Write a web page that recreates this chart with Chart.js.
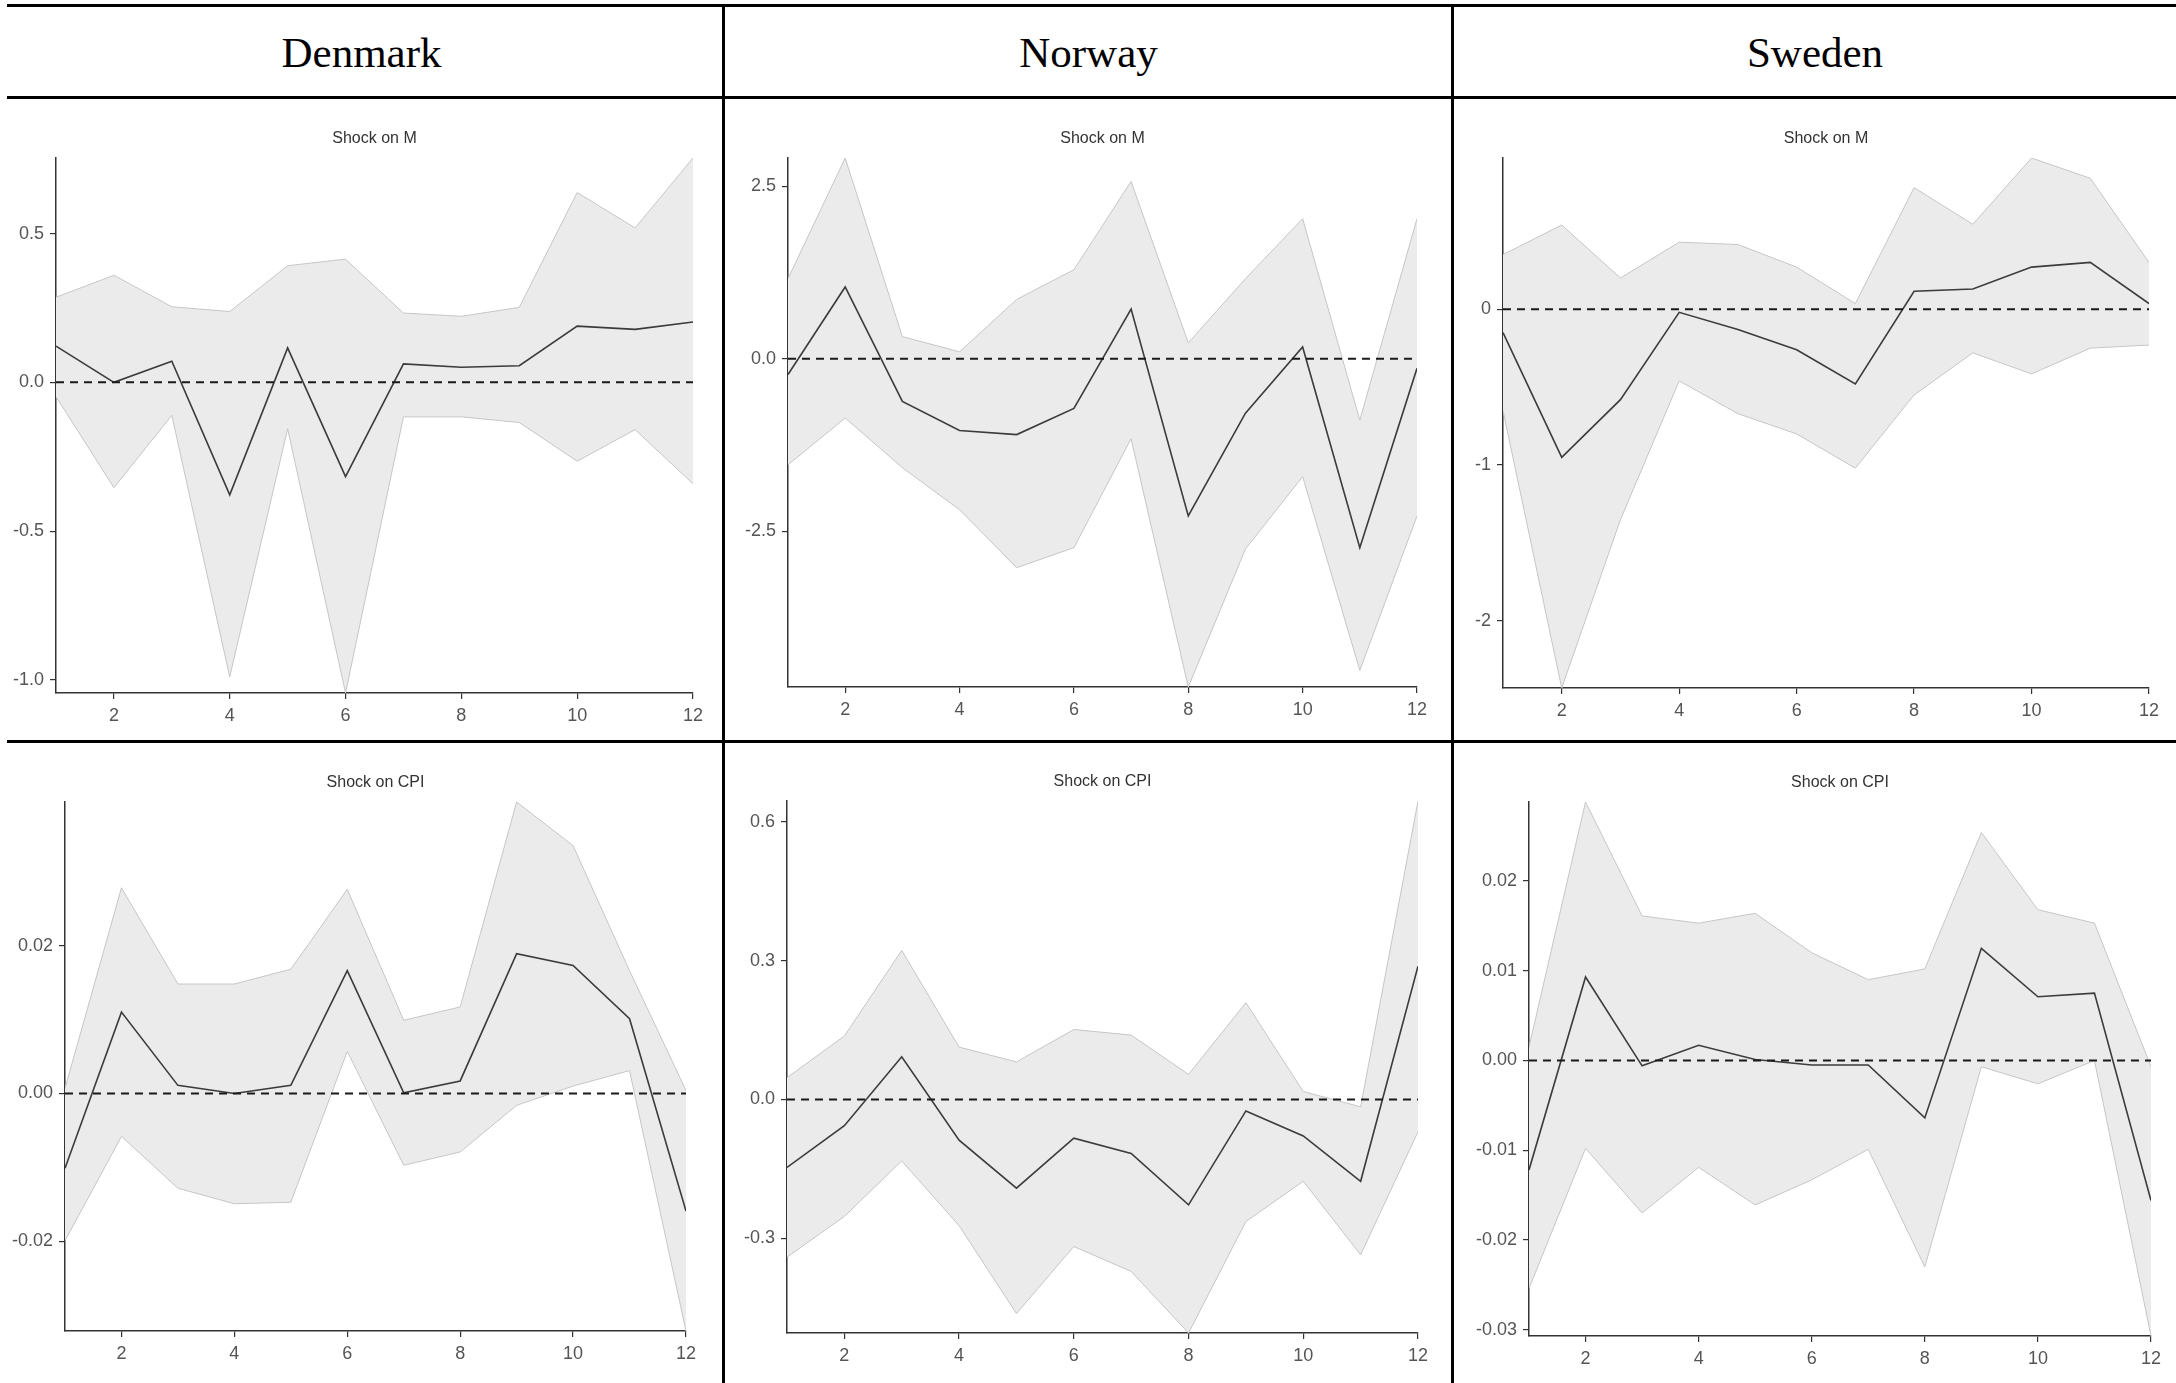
<!DOCTYPE html>
<html>
<head>
<meta charset="utf-8">
<title>Impulse responses: Denmark, Norway, Sweden</title>
<script src="https://cdn.jsdelivr.net/npm/chart.js@4.4.1/dist/chart.umd.min.js"></script>
<style>
  html, body { margin: 0; padding: 0; background: #fff; }
  body { width: 2176px; height: 1383px; position: relative; overflow: hidden; }
  .rule { position: absolute; background: #000; z-index: 2; }
  .country {
    position: absolute; top: 9px; height: 88px; line-height: 88px;
    text-align: center; color: #000;
    font-family: 'Liberation Serif', 'Times New Roman', serif; font-size: 43px;
  }
  canvas { position: absolute; }
</style>
</head>
<body>

<div class="rule" style="left:7px;top:4px;width:2169px;height:3px"></div>
<div class="rule" style="left:7px;top:96px;width:2169px;height:3px"></div>
<div class="rule" style="left:7px;top:740px;width:2169px;height:3px"></div>
<div class="rule" style="left:722px;top:4px;width:3px;height:1379px"></div>
<div class="rule" style="left:1451px;top:4px;width:3px;height:1379px"></div>

<script>
// horizons and ticks
const horizons = [1, 2, 3, 4, 5, 6, 7, 8, 9, 10, 11, 12];
const xTicks   = [2, 4, 6, 8, 10, 12];

const countries   = ['Denmark', 'Norway', 'Sweden'];
const shockTitles = ['Shock on M', 'Shock on CPI'];

// Shock on M
const dkM      = [0.122, 0.0, 0.071, -0.378, 0.116, -0.317, 0.062, 0.051, 0.056, 0.189, 0.178, 0.203];
const dkMUpper = [0.286, 0.360, 0.254, 0.238, 0.392, 0.414, 0.233, 0.222, 0.252, 0.638, 0.519, 0.754];
const dkMLower = [-0.048, -0.354, -0.111, -0.99, -0.156, -1.044, -0.116, -0.116, -0.135, -0.265, -0.159, -0.341];

const noM      = [-0.23, 1.04, -0.62, -1.04, -1.10, -0.72, 0.72, -2.28, -0.79, 0.17, -2.74, -0.14];
const noMUpper = [1.16, 2.91, 0.32, 0.10, 0.86, 1.29, 2.57, 0.23, 1.16, 2.03, -0.89, 2.03];
const noMLower = [-1.54, -0.86, -1.58, -2.19, -3.03, -2.74, -1.16, -4.76, -2.76, -1.71, -4.52, -2.28];

const seM      = [-0.15, -0.95, -0.58, -0.02, -0.13, -0.26, -0.48, 0.115, 0.13, 0.27, 0.30, 0.036];
const seMUpper = [0.35, 0.54, 0.20, 0.43, 0.415, 0.27, 0.036, 0.78, 0.545, 0.97, 0.84, 0.30];
const seMLower = [-0.65, -2.43, -1.35, -0.46, -0.67, -0.80, -1.02, -0.55, -0.28, -0.415, -0.25, -0.23];

// Shock on CPI
const dkCpi      = [-0.0101, 0.0110, 0.0011, 0.0, 0.0011, 0.0166, 0.0001, 0.0017, 0.0189, 0.0173, 0.0101, -0.0159];
const dkCpiUpper = [0.0007, 0.0278, 0.0148, 0.0148, 0.0168, 0.0276, 0.0099, 0.0117, 0.0394, 0.0335, 0.0166, 0.0004];
const dkCpiLower = [-0.0199, -0.0058, -0.0128, -0.0149, -0.0147, 0.0057, -0.0097, -0.0079, -0.0016, 0.0010, 0.0031, -0.0321];

const noCpi      = [-0.147, -0.057, 0.092, -0.088, -0.192, -0.084, -0.117, -0.228, -0.025, -0.079, -0.177, 0.288];
const noCpiUpper = [0.047, 0.137, 0.322, 0.113, 0.081, 0.151, 0.139, 0.054, 0.209, 0.017, -0.016, 0.645];
const noCpiLower = [-0.341, -0.253, -0.133, -0.273, -0.463, -0.318, -0.372, -0.505, -0.264, -0.177, -0.336, -0.070];

const seCpi      = [-0.0122, 0.0093, -0.0006, 0.0017, 0.0001, -0.0005, -0.0005, -0.0064, 0.0125, 0.0071, 0.0075, -0.0156];
const seCpiUpper = [0.0015, 0.0288, 0.0161, 0.0153, 0.0164, 0.0120, 0.0090, 0.0102, 0.0254, 0.0168, 0.0153, -0.0007];
const seCpiLower = [-0.0254, -0.0098, -0.0170, -0.0119, -0.0161, -0.0133, -0.0099, -0.0230, -0.0007, -0.0026, 0.0, -0.0307];

// y tick values + labels
const dkMTicks    = [-1.0, -0.5, 0.0, 0.5];
const dkMLabels   = ['-1.0', '-0.5', '0.0', '0.5'];
const noMTicks    = [-2.5, 0.0, 2.5];
const noMLabels   = ['-2.5', '0.0', '2.5'];
const seMTicks    = [-2, -1, 0];
const seMLabels   = ['-2', '-1', '0'];
const dkCpiTicks  = [-0.02, 0.0, 0.02];
const dkCpiLabels = ['-0.02', '0.00', '0.02'];
const noCpiTicks  = [-0.3, 0.0, 0.3, 0.6];
const noCpiLabels = ['-0.3', '0.0', '0.3', '0.6'];
const seCpiTicks  = [-0.03, -0.02, -0.01, 0.0, 0.01, 0.02];
const seCpiLabels = ['-0.03', '-0.02', '-0.01', '0.00', '0.01', '0.02'];

// plot area in page pixels: [left, top, right, bottom]
const panels = [
    { title: shockTitles[0], irf: dkM,   upper: dkMUpper,   lower: dkMLower,   ticks: dkMTicks,   labels: dkMLabels,   area: [56, 158, 693, 693] },
    { title: shockTitles[0], irf: noM,   upper: noMUpper,   lower: noMLower,   ticks: noMTicks,   labels: noMLabels,   area: [788, 158, 1417, 687] },
    { title: shockTitles[0], irf: seM,   upper: seMUpper,   lower: seMLower,   ticks: seMTicks,   labels: seMLabels,   area: [1503, 158, 2149, 688] },
    { title: shockTitles[1], irf: dkCpi, upper: dkCpiUpper, lower: dkCpiLower, ticks: dkCpiTicks, labels: dkCpiLabels, area: [65, 802, 686, 1331] },
    { title: shockTitles[1], irf: noCpi, upper: noCpiUpper, lower: noCpiLower, ticks: noCpiTicks, labels: noCpiLabels, area: [787, 801, 1418, 1333] },
    { title: shockTitles[1], irf: seCpi, upper: seCpiUpper, lower: seCpiLower, ticks: seCpiTicks, labels: seCpiLabels, area: [1529, 802, 2151, 1336] }
];

const headerCells = [[0, 723], [725, 727], [1454, 722]];

Chart.defaults.font.family = "'Liberation Sans', Arial, sans-serif";
Chart.defaults.animation = false;

const Y_AXIS_W = 70, X_AXIS_H = 34;

// dashed reference line at zero
const zeroLine = {
    id: 'zeroLine',
    afterDatasetsDraw(chart) {
        const { ctx, chartArea, scales } = chart;
        const y = scales.y.getPixelForValue(0);
        ctx.save();
        ctx.strokeStyle = '#1a1a1a';
        ctx.lineWidth = 2;
        ctx.setLineDash([8, 6]);
        ctx.beginPath();
        ctx.moveTo(chartArea.left, y);
        ctx.lineTo(chartArea.right, y);
        ctx.stroke();
        ctx.restore();
    }
};

// panel title centred over the plotting area (ggplot style), not the canvas
const panelTitle = {
    id: 'panelTitle',
    afterDraw(chart, args, opts) {
        const { ctx, chartArea } = chart;
        ctx.save();
        ctx.font = "16px 'Liberation Sans', Arial, sans-serif";
        ctx.fillStyle = '#333';
        ctx.textAlign = 'center';
        ctx.textBaseline = 'middle';
        ctx.fillText(opts.text, (chartArea.left + chartArea.right) / 2, chartArea.top - 19);
        ctx.restore();
    }
};

function addHeaders() {
    countries.forEach(function (name, i) {
        const div = document.createElement('div');
        div.className = 'country';
        div.style.left  = headerCells[i][0] + 'px';
        div.style.width = headerCells[i][1] + 'px';
        div.textContent = name;
        document.body.appendChild(div);
    });
}

function buildPanel(p) {
    const [l, t, r, b] = p.area;
    const left = l - Y_AXIS_W, top = t - 40;
    const w = r - l + Y_AXIS_W + 25, h = b - t + 40 + 45;

    const canvas = document.createElement('canvas');
    canvas.width = w;
    canvas.height = h;
    canvas.style.left = left + 'px';
    canvas.style.top = top + 'px';
    canvas.style.width = w + 'px';
    canvas.style.height = h + 'px';
    document.body.appendChild(canvas);

    const axisGrid = { drawOnChartArea: false, color: '#333', lineWidth: 1.2, tickLength: 6 };
    const axisBorder = { display: true, color: '#333', width: 1.5 };
    const tickFont = { size: 18 };

    new Chart(canvas, {
        type: 'line',
        data: {
            labels: horizons,
            datasets: [
                { data: p.lower, borderColor: '#c6c6c6', borderWidth: 1, pointRadius: 0, fill: false },
                { data: p.upper, borderColor: '#c6c6c6', borderWidth: 1, pointRadius: 0, fill: '-1', backgroundColor: '#ebebeb' },
                { data: p.irf,   borderColor: '#3b3b3b', borderWidth: 1.6, pointRadius: 0, fill: false }
            ]
        },
        options: {
            responsive: false,
            layout: { padding: { left: 0, right: 25, top: 40, bottom: 45 - X_AXIS_H } },
            plugins: {
                legend: { display: false },
                tooltip: { enabled: false },
                title: { display: false },
                filler: { drawTime: 'beforeDatasetsDraw' },
                panelTitle: { text: p.title }
            },
            scales: {
                x: {
                    type: 'linear', min: 1, max: 12,
                    afterBuildTicks: s => { s.ticks = xTicks.map(v => ({ value: v })); },
                    afterFit: s => { s.height = X_AXIS_H; },
                    grid: axisGrid, border: axisBorder,
                    ticks: { color: '#555', font: tickFont, padding: 6, maxRotation: 0, autoSkip: false }
                },
                y: {
                    min: Math.min(...p.lower), max: Math.max(...p.upper),
                    afterBuildTicks: s => { s.ticks = p.ticks.map(v => ({ value: v })); },
                    afterFit: s => { s.width = Y_AXIS_W; },
                    grid: axisGrid, border: axisBorder,
                    ticks: { color: '#555', font: tickFont, padding: 6, autoSkip: false, callback: (v, i) => p.labels[i] }
                }
            }
        },
        plugins: [zeroLine, panelTitle]
    });
}

addHeaders();
panels.forEach(buildPanel);
</script>
</body>
</html>
